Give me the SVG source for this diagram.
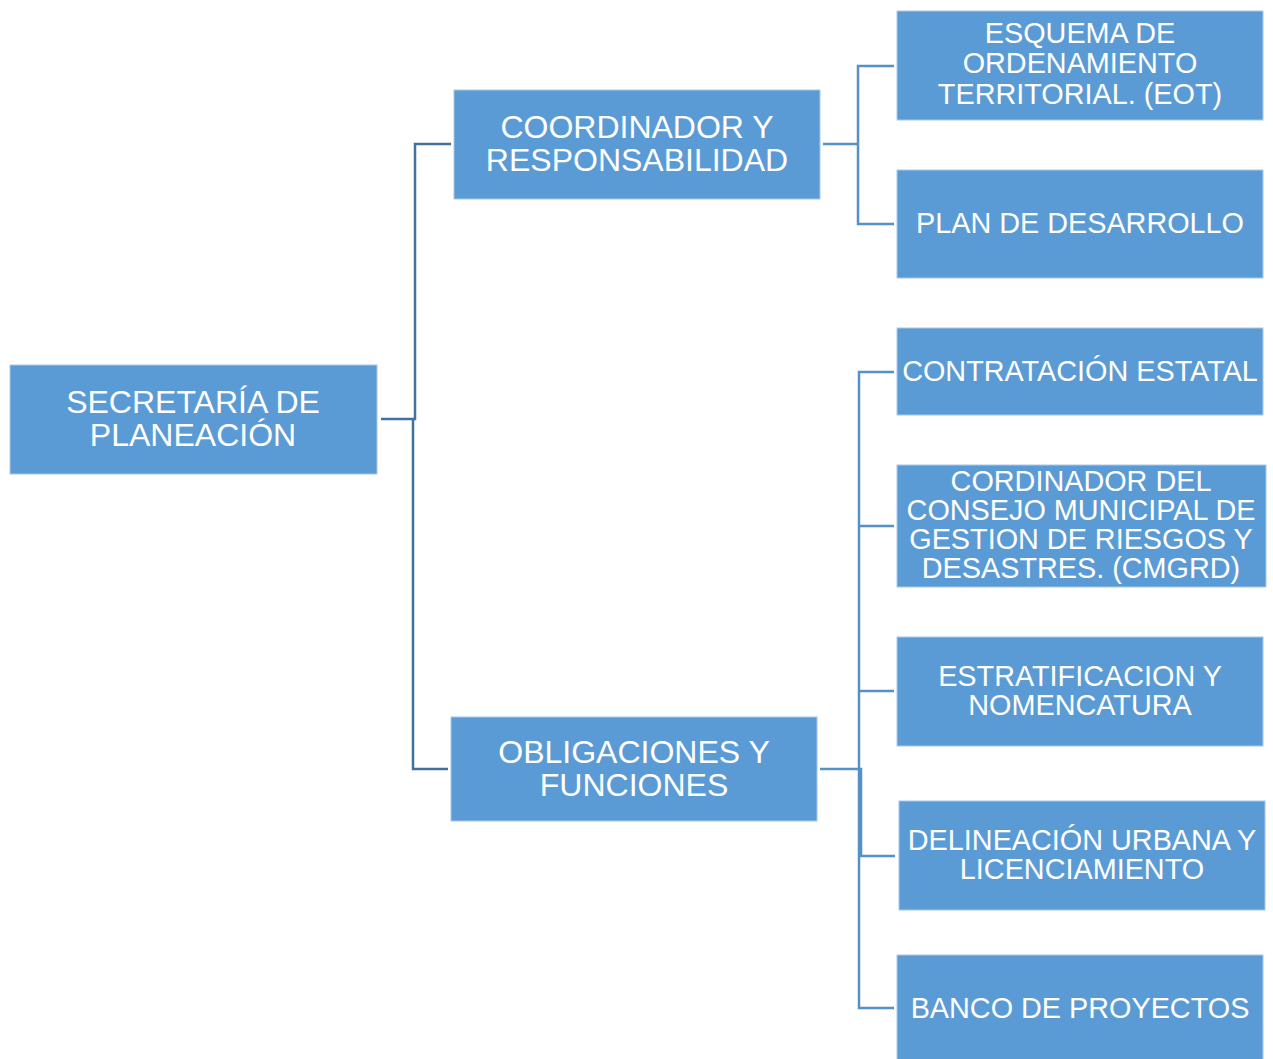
<svg xmlns="http://www.w3.org/2000/svg" width="1273" height="1059" viewBox="0 0 1273 1059">
<style>
.box{fill:#5B9BD5;stroke:#A9C8E8;stroke-width:1}
.t1{font-family:"Liberation Sans",Arial,sans-serif;font-size:32px;fill:#fff;text-anchor:middle}
.t2{font-family:"Liberation Sans",Arial,sans-serif;font-size:28.8px;fill:#fff;text-anchor:middle}
.c1{fill:none;stroke:#41719C;stroke-width:2.5}
.c2{fill:none;stroke:#5590C8;stroke-width:2.5}
</style>
<rect width="1273" height="1059" fill="#fff"/>
<g id="connectors">
<path class="c1" d="M381 419 H415 V144 H451"/>
<path class="c1" d="M413 419 V769 H448"/>
<path class="c2" d="M823 144 H858 M894 66 H858 V224 H894"/>
<path class="c2" d="M820 769 H861 V856 H895 M894 372 H859 V1008 H894 M859 526 H894 M859 691 H894"/>
</g>
<g id="n-secretaria"><rect class="box" x="10" y="365" width="367" height="109"/>
<text class="t1" x="193" y="413">SECRETARÍA DE</text><text class="t1" x="193" y="446">PLANEACIÓN</text></g>
<g id="n-coordinador"><rect class="box" x="454" y="90" width="366" height="109"/>
<text class="t1" x="637" y="138">COORDINADOR Y</text><text class="t1" x="637" y="171">RESPONSABILIDAD</text></g>
<g id="n-obligaciones"><rect class="box" x="451" y="717" width="366" height="104"/>
<text class="t1" x="634" y="763">OBLIGACIONES Y</text><text class="t1" x="634" y="796">FUNCIONES</text></g>
<g id="n-eot"><rect class="box" x="897" y="11" width="366" height="109"/>
<text class="t2" x="1080" y="43">ESQUEMA DE</text><text class="t2" x="1080" y="73">ORDENAMIENTO</text><text class="t2" x="1080" y="104">TERRITORIAL. (EOT)</text></g>
<g id="n-plan"><rect class="box" x="897" y="170" width="366" height="108"/>
<text class="t2" x="1080" y="233">PLAN DE DESARROLLO</text></g>
<g id="n-contratacion"><rect class="box" x="897" y="328" width="366" height="87"/>
<text class="t2" x="1080" y="381">CONTRATACIÓN ESTATAL</text></g>
<g id="n-cmgrd"><rect class="box" x="897" y="465" width="369" height="122"/>
<text class="t2" x="1081" y="491">CORDINADOR DEL</text><text class="t2" x="1081" y="520">CONSEJO MUNICIPAL DE</text><text class="t2" x="1081" y="549">GESTION DE RIESGOS Y</text><text class="t2" x="1081" y="578">DESASTRES. (CMGRD)</text></g>
<g id="n-estratificacion"><rect class="box" x="897" y="637" width="366" height="109"/>
<text class="t2" x="1080" y="686">ESTRATIFICACION Y</text><text class="t2" x="1080" y="715">NOMENCATURA</text></g>
<g id="n-delineacion"><rect class="box" x="899" y="801" width="366" height="109"/>
<text class="t2" x="1082" y="850">DELINEACIÓN URBANA Y</text><text class="t2" x="1082" y="879">LICENCIAMIENTO</text></g>
<g id="n-banco"><rect class="box" x="897" y="955" width="366" height="110"/>
<text class="t2" x="1080" y="1018">BANCO DE PROYECTOS</text></g>
</svg>
